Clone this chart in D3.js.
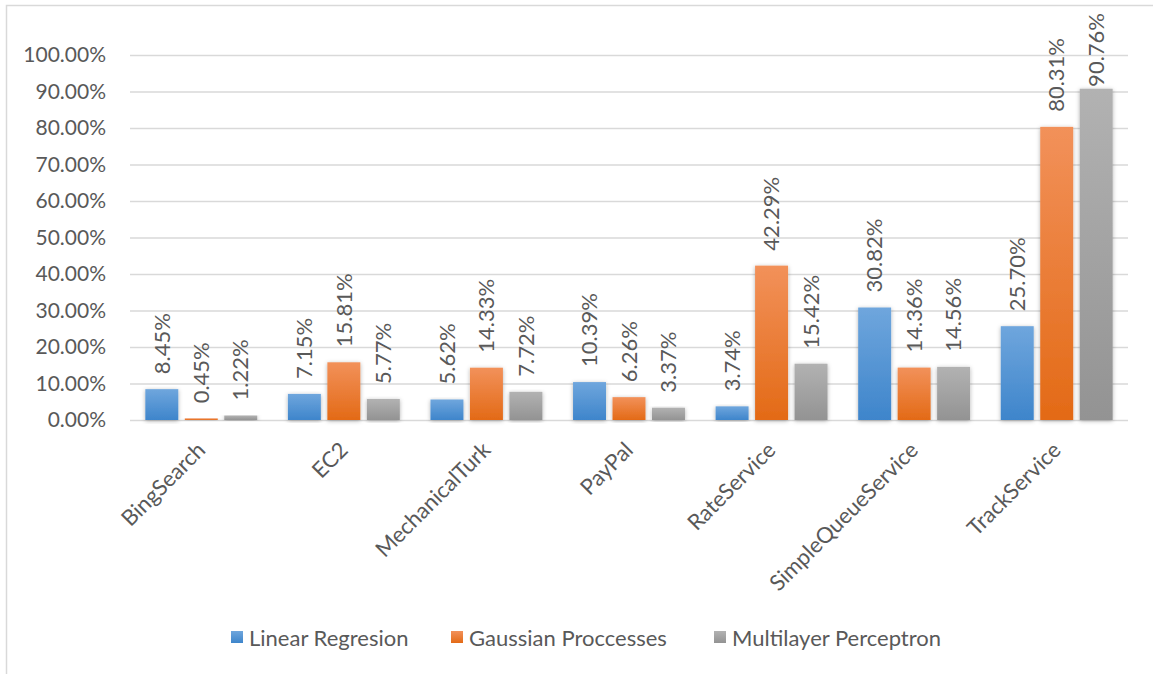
<!DOCTYPE html>
<html>
<head>
<meta charset="utf-8">
<script src="https://cdn.jsdelivr.net/npm/d3@7"></script>
<style>
  body { margin: 0; background: #fff; }
  text { font-family: Lato, "Open Sans", sans-serif; fill: #595959; }
</style>
</head>
<body>
<svg id="chart" width="1153" height="674"></svg>
<script>
// data
var categories = ["BingSearch", "EC2", "MechanicalTurk", "PayPal", "RateService", "SimpleQueueService", "TrackService"];
var seriesNames = ["Linear Regresion", "Gaussian Proccesses", "Multilayer Perceptron"];
var linearRegresion = [0.0845, 0.0715, 0.0562, 0.1039, 0.0374, 0.3082, 0.2570];
var gaussianProccesses = [0.0045, 0.1581, 0.1433, 0.0626, 0.4229, 0.1436, 0.8031];
var multilayerPerceptron = [0.0122, 0.0577, 0.0772, 0.0337, 0.1542, 0.1456, 0.9076];
var yTicks = [0, 0.1, 0.2, 0.3, 0.4, 0.5, 0.6, 0.7, 0.8, 0.9, 1.0];

var seriesValues = [linearRegresion, gaussianProccesses, multilayerPerceptron];
var colors = [
  {top: "#6fa6dd", bottom: "#3e85cb"},
  {top: "#f2915a", bottom: "#e36a16"},
  {top: "#b2b2b2", bottom: "#939393"}
];

var svg = d3.select("#chart"),
    margin = {top: 55, right: 25, bottom: 254, left: 130},
    width = +svg.attr("width") - margin.left - margin.right,
    height = +svg.attr("height") - margin.top - margin.bottom;

// outer frame (only left and top edges fall inside the picture)
svg.append("rect")
    .attr("x", 6.5).attr("y", 5.5)
    .attr("width", 1200).attr("height", 700)
    .attr("fill", "none")
    .attr("stroke", "#d9d9d9")
    .attr("stroke-width", 1.5);

var defs = svg.append("defs");
colors.forEach(function(c, i) {
  var grad = defs.append("linearGradient")
      .attr("id", "grad" + i)
      .attr("x1", 0).attr("y1", 0).attr("x2", 0).attr("y2", 1);
  grad.append("stop").attr("offset", "0%").attr("stop-color", c.top);
  grad.append("stop").attr("offset", "100%").attr("stop-color", c.bottom);
});
var shadow = defs.append("filter").attr("id", "shadow")
    .attr("x", "-30%").attr("y", "-10%").attr("width", "160%").attr("height", "120%");
shadow.append("feDropShadow")
    .attr("dx", 0).attr("dy", 1)
    .attr("stdDeviation", 2)
    .attr("flood-color", "#000")
    .attr("flood-opacity", 0.3);

var g = svg.append("g").attr("transform", "translate(" + margin.left + "," + margin.top + ")");

var x0 = d3.scaleBand().domain(categories).range([0, width]).paddingInner(0.215).paddingOuter(0.1075);
var x1 = d3.scaleBand().domain(d3.range(seriesNames.length)).range([0, x0.bandwidth()]).paddingInner(0.165);
var y = d3.scaleLinear().domain([0, 1]).range([height, 0]);

// gridlines and y labels
var yAxis = g.append("g")
    .call(d3.axisLeft(y).tickValues(yTicks).tickFormat(d3.format(".2%")).tickSize(-width).tickPadding(24));
yAxis.select(".domain").remove();
yAxis.selectAll(".tick line").attr("stroke", "#d9d9d9").attr("stroke-width", 1.5);
yAxis.selectAll(".tick text")
    .style("font-size", "21px")
    .attr("fill", "#595959");

// bars
var groups = g.selectAll(".cat")
    .data(categories)
    .enter().append("g")
    .attr("class", "cat")
    .attr("transform", function(d) { return "translate(" + x0(d) + ",0)"; });

groups.selectAll("rect")
    .data(function(d, i) { return seriesValues.map(function(s, k) { return {k: k, v: s[i]}; }); })
    .enter().append("rect")
    .attr("x", function(d) { return x1(d.k); })
    .attr("y", function(d) { return y(d.v); })
    .attr("width", x1.bandwidth())
    .attr("height", function(d) { return y(0) - y(d.v); })
    .attr("fill", function(d) { return "url(#grad" + d.k + ")"; })
    .attr("filter", "url(#shadow)");

// value labels, pushed down when they would run past the top of the chart
var labelTop = 13 - margin.top;
groups.selectAll("text.val")
    .data(function(d, i) { return seriesValues.map(function(s, k) { return {k: k, v: s[i]}; }); })
    .enter().append("text")
    .attr("class", "val")
    .attr("dy", "0.35em")
    .style("font-size", "22px")
    .text(function(d) { return d3.format(".2%")(d.v); })
    .attr("transform", function(d) {
      var len = this.getComputedTextLength();
      var base = Math.max(y(d.v) - 15, labelTop + len);
      return "translate(" + (x1(d.k) + x1.bandwidth() / 2) + "," + base + ") rotate(-90)";
    });

// category labels
g.append("g").selectAll("text")
    .data(categories)
    .enter().append("text")
    .attr("transform", function(d) {
      return "translate(" + (x0(d) + x0.bandwidth() / 2) + "," + (height + 26) + ") rotate(-45)";
    })
    .attr("text-anchor", "end")
    .attr("dy", "0.35em")
    .style("font-size", "22px")
    .text(function(d) { return d; });

// legend
var legend = svg.append("g").attr("transform", "translate(231,638)");
var legendX = [0, 220, 483];
seriesNames.forEach(function(name, i) {
  var item = legend.append("g").attr("transform", "translate(" + legendX[i] + ",0)");
  item.append("rect")
      .attr("x", 0).attr("y", -7)
      .attr("width", 12).attr("height", 12)
      .attr("fill", "url(#grad" + i + ")");
  item.append("text")
      .attr("x", 18).attr("dy", "0.35em")
      .style("font-size", "22px")
      .text(name);
});
</script>
</body>
</html>
